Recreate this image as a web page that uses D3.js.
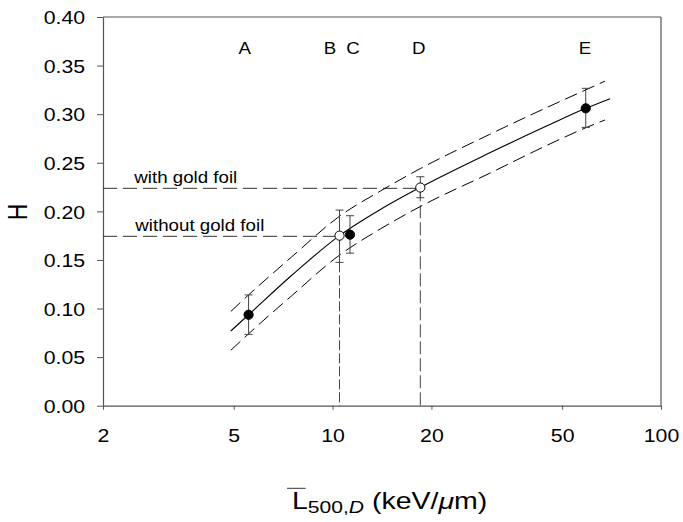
<!DOCTYPE html>
<html><head><meta charset="utf-8">
<script src="https://cdn.jsdelivr.net/npm/d3@7"></script>
<style>
html,body{margin:0;padding:0;background:#fff;}
text{font-family:"Liberation Sans",Arial,sans-serif;fill:#000;}
</style></head>
<body><svg id="c" width="683" height="522"></svg>
<script>
// ---- data ----
const pointLabels = ["A","B","C","D","E"];
const pointL = [5.55, 10.5, 11.3, 18.5, 59];
const pointH = [0.0936, 0.175, 0.176, 0.2245, 0.306];
const pointErrHi = [0.114, 0.2013, 0.1955, 0.2356, 0.3266];
const pointErrLo = [0.0734, 0.1475, 0.157, 0.214, 0.2864];
const pointOpen = [false, true, false, true, false];
const letterL = [5.4, 9.82, 11.55, 18.3, 58.7];

const curveL = [4.9, 5.55, 7.5, 10.5, 14, 18.5, 30, 45, 59, 70];
const curveH = [0.0769, 0.0936, 0.134, 0.175, 0.202, 0.2247, 0.26, 0.288, 0.306, 0.316];
const bandL = [4.9, 5.55, 7.5, 10.5, 14, 18.5, 30, 45, 59, 67.5];
const upperH = [0.097, 0.114, 0.153, 0.195, 0.221, 0.244, 0.279, 0.307, 0.325, 0.334];
const lowerH = [0.057, 0.074, 0.113, 0.155, 0.182, 0.205, 0.239, 0.268, 0.286, 0.294];

const refNames = ["with gold foil", "without gold foil"];
const refL = [18.5, 10.5];
const refH = [0.2237, 0.1743];

const xTicks = [2, 5, 10, 20, 50, 100];
const yTicks = [0, 0.05, 0.10, 0.15, 0.20, 0.25, 0.30, 0.35, 0.40];

// ---- layout ----
const S = 1.17; // horizontal stretch of glyphs in the reference
const ST = 1.12;
const m = {left:103, top:17, right:22, bottom:116.3};
const W = 683 - m.left - m.right, H = 522 - m.top - m.bottom;
const svg = d3.select("#c");
const g = svg.append("g").attr("transform", `translate(${m.left},${m.top})`);
const x = d3.scaleLog().domain([2,100]).range([0,W]);
const y = d3.scaleLinear().domain([0,0.40]).range([H,0]);

// frame (top/right)
g.append("line").attr("x1",0).attr("x2",W).attr("y1",0).attr("y2",0).attr("stroke","#555").attr("stroke-width",1.2);
g.append("line").attr("x1",W).attr("x2",W).attr("y1",0).attr("y2",H).attr("stroke","#555").attr("stroke-width",1.2);

// axes
const ya = g.append("g").call(d3.axisLeft(y).tickValues(yTicks).tickFormat(d3.format(".2f")).tickSizeInner(6).tickSizeOuter(0));
const xa = g.append("g").attr("transform",`translate(0,${H})`).call(d3.axisBottom(x).tickValues(xTicks).tickFormat(d3.format("d")).tickSizeInner(4).tickSizeOuter(0));
[ya, xa].forEach(a => {
  a.select(".domain").attr("stroke","#555").attr("stroke-width",1.2);
  a.selectAll(".tick line").attr("stroke","#555");
  a.selectAll("text").style("font-size","19px").style("font-family","Liberation Sans, Arial, sans-serif").attr("fill","#000");
});
ya.selectAll(".tick text").attr("x",-16).attr("dy",null).attr("y",6.8).attr("transform",`scale(${ST},1)`);
xa.selectAll(".tick text").attr("dy",null).attr("y",36.5).attr("transform",`scale(${ST},1)`);

// reference lines
refL.forEach((L,i) => {
  g.append("line").attr("x1",0).attr("x2",x(L)).attr("y1",y(refH[i])).attr("y2",y(refH[i]))
    .attr("stroke","#333").attr("stroke-width",1).attr("stroke-dasharray","14,6");
  g.append("line").attr("x1",x(L)).attr("x2",x(L)).attr("y1",y(refH[i])).attr("y2",H)
    .attr("stroke","#444").attr("stroke-width",1).attr("stroke-dasharray", i===0 ? "13,4" : "10,3");
  g.append("text").attr("transform",`translate(${i===0?31.3:32.3},${y(refH[i]) - (i===0?5:5.3)}) scale(${S},1)`)
    .style("font-size","16px").text(refNames[i]);
});

// curves
const line = d3.line().x(d=>x(d[0])).y(d=>y(d[1])).curve(d3.curveMonotoneX);
g.append("path").datum(bandL.map((L,i)=>[L,upperH[i]])).attr("d",line)
  .attr("fill","none").attr("stroke","#000").attr("stroke-width",1).attr("stroke-dasharray","13,6");
g.append("path").datum(bandL.map((L,i)=>[L,lowerH[i]])).attr("d",line)
  .attr("fill","none").attr("stroke","#000").attr("stroke-width",1).attr("stroke-dasharray","13,6");
g.append("path").datum(curveL.map((L,i)=>[L,curveH[i]])).attr("d",line)
  .attr("fill","none").attr("stroke","#000").attr("stroke-width",1.1);

// error bars
pointL.forEach((L,i) => {
  const cx = x(L);
  const eb = g.append("g").attr("stroke","#444").attr("stroke-width",1);
  eb.append("line").attr("x1",cx).attr("x2",cx).attr("y1",y(pointErrHi[i])).attr("y2",y(pointErrLo[i]));
  eb.append("line").attr("x1",cx-4).attr("x2",cx+4).attr("y1",y(pointErrHi[i])).attr("y2",y(pointErrHi[i]));
  eb.append("line").attr("x1",cx-4).attr("x2",cx+4).attr("y1",y(pointErrLo[i])).attr("y2",y(pointErrLo[i]));
});
// markers
pointL.forEach((L,i) => {
  g.append("circle").attr("cx",x(L)).attr("cy",y(pointH[i])).attr("r",4.6)
    .attr("fill", pointOpen[i] ? "#fff" : "#000").attr("stroke","#000").attr("stroke-width",1);
});
// letters
pointLabels.forEach((t,i) => {
  g.append("text").attr("transform",`translate(${x(letterL[i])},${54-m.top}) scale(${S},1)`)
    .attr("text-anchor","middle").style("font-size","16px").text(t);
});

// y-axis title
svg.append("text").attr("transform",`translate(27,212) scale(${S},1) rotate(-90)`)
  .attr("text-anchor","middle").style("font-size","23px").text("H");

// x-axis title
const xt = svg.append("g").attr("transform",`translate(292,509.3) scale(1.24,1)`);
const tx = xt.append("text").style("font-size","23px");
tx.append("tspan").text("L");
tx.append("tspan").attr("dy",4).style("font-size","17px").text("500,");
tx.append("tspan").style("font-size","17px").style("font-style","italic").text("D");
tx.append("tspan").attr("dy",-4).text(" (keV/");
tx.append("tspan").style("font-style","italic").text("\u03bc");
tx.append("tspan").text("m)");
xt.append("line").attr("x1",-4).attr("x2",11).attr("y1",-21).attr("y2",-21).attr("stroke","#333").attr("stroke-width",1);
</script></body></html>
